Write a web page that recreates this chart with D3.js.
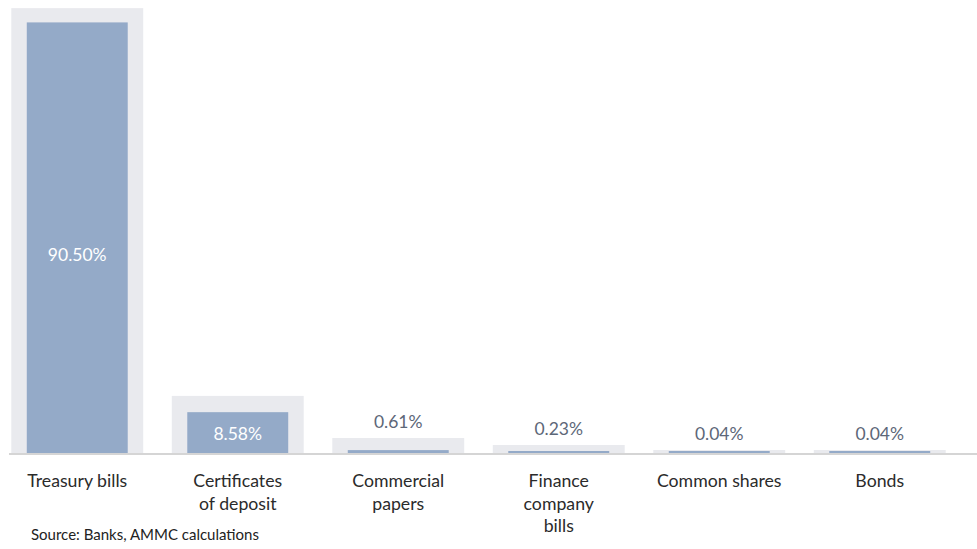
<!DOCTYPE html>
<html>
<head>
<meta charset="utf-8">
<script src="https://cdn.jsdelivr.net/npm/d3@7"></script>
<style>
  html, body { margin: 0; padding: 0; background: #ffffff; }
  svg { display: block; font-family: Lato, "Open Sans", sans-serif; }
</style>
</head>
<body>
<svg id="chart" width="977" height="549"></svg>
<script>
// Holdings by instrument type (share of portfolio, %)
const categories = [
  ["Treasury bills"],
  ["Certificates", "of deposit"],
  ["Commercial", "papers"],
  ["Finance", "company", "bills"],
  ["Common shares"],
  ["Bonds"]
];
const shareValues = [90.50, 8.58, 0.61, 0.23, 0.04, 0.04];
const backdropValues = [93.5, 12.0, 3.15, 1.68, 0.63, 0.63];
const valueLabels = ["90.50%", "8.58%", "0.61%", "0.23%", "0.04%", "0.04%"];
const sourceNote = "Source: Banks, AMMC calculations";

const svg = d3.select("#chart");
const baseY = 453;

const x = d3.scaleBand()
  .domain(d3.range(categories.length))
  .range([-3, 960]);

const y = d3.scaleLinear()
  .domain([0, 95])
  .range([baseY, 1]);

const step = x.step();
const backW = step * 0.822;
const barW = step * 0.629;
const cx = i => x(i) + x.bandwidth() / 2;

// Backdrop bars
svg.append("g").selectAll("rect")
  .data(backdropValues)
  .join("rect")
  .attr("x", (d, i) => cx(i) - backW / 2)
  .attr("y", d => y(d))
  .attr("width", backW)
  .attr("height", d => baseY - y(d))
  .attr("fill", "#e9eaee");

// Value bars
const barTop = d => Math.min(y(d), baseY - 2);
svg.append("g").selectAll("rect")
  .data(shareValues)
  .join("rect")
  .attr("x", (d, i) => cx(i) - barW / 2)
  .attr("y", d => barTop(d))
  .attr("width", barW)
  .attr("height", d => baseY - barTop(d))
  .attr("fill", "#94aac8");

// Baseline
svg.append("line")
  .attr("x1", 9).attr("x2", 977)
  .attr("y1", baseY + 1).attr("y2", baseY + 1)
  .attr("stroke", "#d5d5d5")
  .attr("stroke-width", 2);

// Value labels: inside tall bars, above the backdrop otherwise
svg.append("g").selectAll("text")
  .data(shareValues)
  .join("text")
  .attr("x", (d, i) => cx(i))
  .attr("y", (d, i) => {
    const h = baseY - y(d);
    return h > 30 ? y(d) + h * 0.54 : y(backdropValues[i]) - 10;
  })
  .attr("dy", (d) => (baseY - y(d) > 30 ? "0.35em" : "0"))
  .attr("text-anchor", "middle")
  .attr("font-size", 17.5)
  .attr("fill", d => (baseY - y(d) > 30 ? "#ffffff" : "#5d6778"))
  .text((d, i) => valueLabels[i]);

// Category labels
const cat = svg.append("g").selectAll("text")
  .data(categories)
  .join("text")
  .attr("x", (d, i) => cx(i))
  .attr("y", 487)
  .attr("text-anchor", "middle")
  .attr("font-size", 17.7)
  .attr("fill", "#2b2b2b");
cat.selectAll("tspan")
  .data(d => d)
  .join("tspan")
  .attr("x", function () { return this.parentNode.getAttribute("x"); })
  .attr("dy", (d, j) => (j === 0 ? 0 : 22.5))
  .text(d => d);

// Source note
svg.append("text")
  .attr("x", 31)
  .attr("y", 540)
  .attr("font-size", 15)
  .attr("fill", "#222222")
  .text(sourceNote);
</script>
</body>
</html>
